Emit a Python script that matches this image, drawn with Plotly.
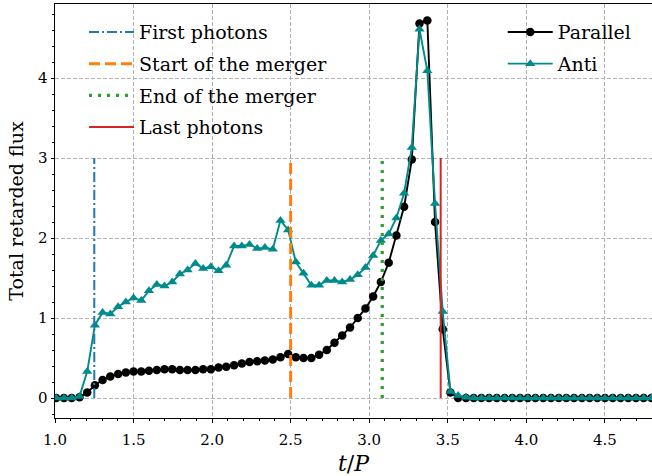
import plotly.graph_objects as go

# retarded time samples t/P
t = [1.008, 1.057, 1.106, 1.156, 1.205, 1.254, 1.303, 1.352, 1.402, 1.451,
     1.500, 1.549, 1.598, 1.648, 1.697, 1.746, 1.795, 1.844, 1.894, 1.943,
     1.992, 2.041, 2.090, 2.140, 2.189, 2.238, 2.287, 2.336, 2.386, 2.435,
     2.484, 2.533, 2.582, 2.632, 2.681, 2.730, 2.779, 2.828, 2.878, 2.927,
     2.976, 3.025, 3.074, 3.124, 3.173, 3.222, 3.271, 3.320, 3.370, 3.419,
     3.468, 3.517, 3.566, 3.616, 3.665, 3.714, 3.763, 3.812, 3.862, 3.911,
     3.960, 4.009, 4.058, 4.108, 4.157, 4.206, 4.255, 4.304, 4.354, 4.403,
     4.452, 4.501, 4.550, 4.600, 4.649, 4.698, 4.747, 4.796]

parallel = [0, 0, 0, 0.01, 0.07, 0.16, 0.225, 0.27, 0.30, 0.32,
            0.33, 0.33, 0.34, 0.35, 0.36, 0.36, 0.35, 0.35, 0.35, 0.36,
            0.36, 0.38, 0.39, 0.41, 0.43, 0.45, 0.46, 0.47, 0.48, 0.51,
            0.55, 0.51, 0.50, 0.50, 0.54, 0.60, 0.69, 0.78, 0.88, 1.00,
            1.12, 1.27, 1.45, 1.69, 2.03, 2.39, 2.98, 4.68, 4.72, 2.20,
            0.86, 0.07, 0, 0, 0, 0, 0, 0, 0, 0,
            0, 0, 0, 0, 0, 0, 0, 0, 0, 0,
            0, 0, 0, 0, 0, 0, 0, 0]

anti = [0, 0, 0, 0.02, 0.33, 0.91, 1.07, 1.05, 1.14, 1.20,
        1.25, 1.22, 1.34, 1.42, 1.40, 1.45, 1.55, 1.60, 1.68, 1.62,
        1.64, 1.59, 1.66, 1.90, 1.90, 1.92, 1.87, 1.88, 1.86, 2.22,
        2.10, 1.70, 1.56, 1.41, 1.41, 1.47, 1.47, 1.45, 1.48, 1.54,
        1.63, 1.78, 1.97, 2.05, 2.25, 2.56, 3.13, 4.61, 4.09, 2.43,
        1.08, 0.08, 0.03, 0.01, 0, 0, 0, 0, 0, 0,
        0, 0, 0, 0, 0, 0, 0, 0, 0, 0,
        0, 0, 0, 0, 0, 0, 0, 0]

event_names = ["First photons", "Start of the merger", "End of the merger", "Last photons"]
event_times = [1.25, 2.5, 3.083, 3.455]
event_top = 3.0

FONT = "DejaVu Serif"

fig = go.Figure()

fig.add_trace(go.Scatter(
    x=t, y=parallel, name="Parallel", mode="lines+markers",
    line=dict(color="black", width=1.9),
    marker=dict(symbol="circle", size=8.5, color="black"),
    legend="legend2", legendgroup="p"))
fig.add_trace(go.Scatter(
    x=t, y=anti, name="Anti", mode="lines+markers",
    line=dict(color="#008b8b", width=1.9),
    marker=dict(symbol="triangle-up", size=9, color="#008b8b"),
    legend="legend2", legendgroup="a"))

styles = [
    dict(color="#1f77b4", width=2, dash="10px,3px,2px,3px"),
    dict(color="#ff7f0e", width=3, dash="11px,5px"),
    dict(color="#2ca02c", width=3.2, dash="3px,6px"),
    dict(color="#d62728", width=2, dash="solid"),
]
for i, (nm, tv) in enumerate(zip(event_names, event_times)):
    fig.add_trace(go.Scatter(
        x=[tv, tv], y=[0, event_top], name=nm, mode="lines",
        line=styles[i], legend="legend", legendgroup="e%d" % i))

axis_common = dict(
    showline=True, linecolor="black", linewidth=1, mirror=True,
    ticks="outside", ticklen=3.5, tickwidth=1, tickcolor="black",
    showgrid=True, gridcolor="#b0b0b0", gridwidth=1, griddash="4px,2px",
    zeroline=False, automargin=False,
    tickfont=dict(family=FONT, size=15, color="black"),
)

fig.update_xaxes(
    range=[1.0, 4.8], tickmode="array",
    tickvals=[1.0, 1.5, 2.0, 2.5, 3.0, 3.5, 4.0, 4.5],
    ticktext=["1.0", "1.5", "2.0", "2.5", "3.0", "3.5", "4.0", "4.5"],
    ticklabelstandoff=4,
    minor=dict(dtick=0.1, tick0=1.0, ticks="outside", ticklen=2, tickcolor="black", showgrid=False),
    title=dict(text="<i>t</i>/<i>P</i>", font=dict(family=FONT, size=22, color="black"), standoff=9),
    **axis_common)
fig.update_yaxes(
    range=[-0.25, 4.925], tickmode="array",
    tickvals=[0, 1, 2, 3, 4], ticktext=["0", "1", "2", "3", "4"],
    minor=dict(dtick=0.2, tick0=0, ticks="outside", ticklen=2, tickcolor="black", showgrid=False),
    title=dict(text="Total retarded flux", font=dict(family=FONT, size=19, color="black"), standoff=9),
    **axis_common)

legend_common = dict(
    bgcolor="rgba(0,0,0,0)", borderwidth=0,
    font=dict(family=FONT, size=19, color="black"),
    tracegroupgap=4, itemwidth=45, xanchor="left", yanchor="top",
)
fig.update_layout(
    width=652, height=476,
    margin=dict(l=55, r=0, t=4, b=58),
    paper_bgcolor="white", plot_bgcolor="white",
    legend=dict(x=0.0486, y=0.978, **legend_common),
    legend2=dict(x=0.750, y=0.978, **legend_common),
    showlegend=True,
)

fig.write_html("out.html", config={"displayModeBar": False},
               post_script="document.body.style.margin='0';")
